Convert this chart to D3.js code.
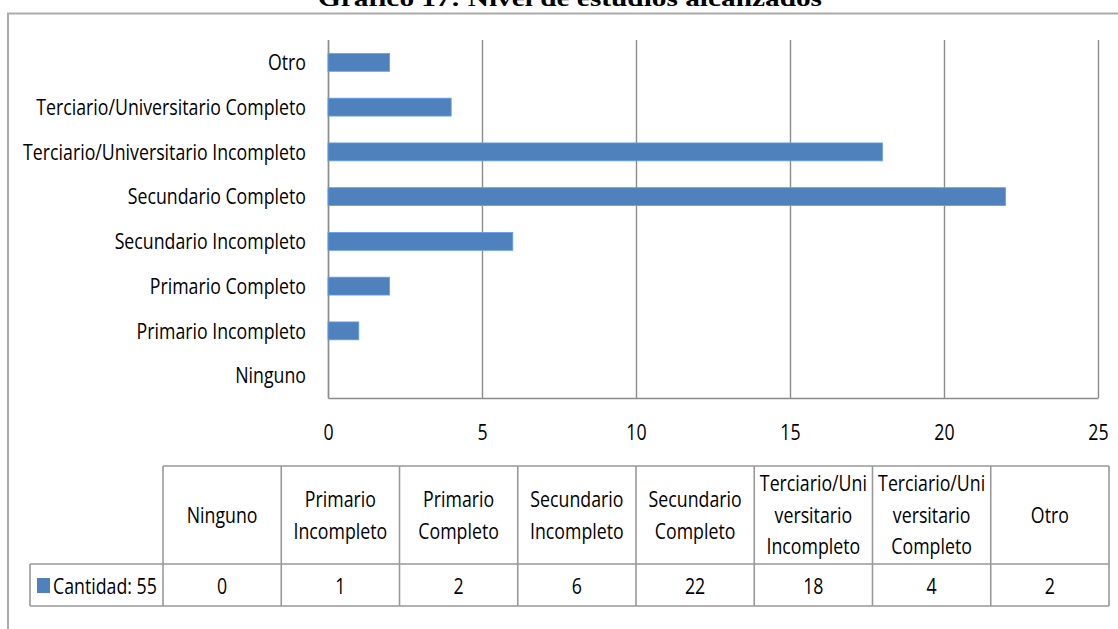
<!DOCTYPE html>
<html>
<head>
<meta charset="utf-8">
<script src="https://cdn.jsdelivr.net/npm/d3@7"></script>
<style>
  body { margin: 0; background: #fff; }
  text { font-family: 'Open Sans', sans-serif; fill: #000; }
</style>
</head>
<body>
<div class="chart"></div>
<script>
/* global d3 */
'use strict'

const title = 'Gráfico 17: Nivel de estudios alcanzados'
const categories = ['Ninguno', 'Primario Incompleto', 'Primario Completo', 'Secundario Incompleto',
  'Secundario Completo', 'Terciario/Universitario Incompleto', 'Terciario/Universitario Completo', 'Otro']
const values = [0, 1, 2, 6, 22, 18, 4, 2]
const xTicks = [0, 5, 10, 15, 20, 25]
// header cells of the data table, wrapped the way the original wraps them
const headerLines = [['Ninguno'], ['Primario', 'Incompleto'], ['Primario', 'Completo'],
  ['Secundario', 'Incompleto'], ['Secundario', 'Completo'],
  ['Terciario/Uni', 'versitario', 'Incompleto'], ['Terciario/Uni', 'versitario', 'Completo'], ['Otro']]
const seriesName = 'Cantidad: 55'

const width = 1118
const height = 629
const plot = { left: 328, right: 1098, top: 40, bottom: 398 }
const table = { left: 30, first: 163, right: 1109, top: 466, mid: 564, bottom: 606 }
const blue = '#4f81bd'
const grid = '#8c8c8c'
const lineColor = '#999'

const svg = d3.select('.chart').append('svg')
  .attr('width', width)
  .attr('height', height)

// the original picture is stretched vertically, so glyphs are narrow and tall
const FS = 18
const probe = svg.append('text').attr('font-size', FS).text(categories[5])
const sx = 283 / probe.node().getComputedTextLength()
const sy = 1.24
probe.remove()

const label = function (parent, x, y, str, anchor) {
  return parent.append('text')
    .attr('transform', 'translate(' + x + ',' + y + ') scale(' + sx + ',' + sy + ')')
    .attr('font-size', FS)
    .attr('text-anchor', anchor || 'middle')
    .attr('dy', '0.35em')
    .text(str)
}

// title, cut by the top edge as in the original
svg.append('text')
  .attr('x', 570)
  .attr('y', 6)
  .attr('text-anchor', 'middle')
  .attr('textLength', 504)
  .attr('lengthAdjust', 'spacingAndGlyphs')
  .style('font-family', "'Liberation Serif', 'Times New Roman', serif")
  .style('font-weight', 'bold')
  .style('font-size', '24px')
  .text(title)

// outer frame (only top and left edges are in view)
svg.append('path')
  .attr('d', 'M8,' + height + 'V13.5H' + width)
  .attr('fill', 'none')
  .attr('stroke', '#aaa')
  .attr('stroke-width', 2)

const x = d3.scaleLinear().domain([0, 25]).range([plot.left, plot.right])
const y = d3.scaleBand().domain(categories).range([plot.bottom, plot.top])
  .paddingInner(0.6).paddingOuter(0.3)

// bottom axis with grid lines
const xAxis = svg.append('g')
  .attr('transform', 'translate(0,' + plot.bottom + ')')
  .call(d3.axisBottom(x).tickValues(xTicks).tickSize(-(plot.bottom - plot.top)).tickSizeOuter(0))
xAxis.selectAll('line').attr('stroke', grid).attr('stroke-width', 1.4)
xAxis.select('.domain').attr('stroke', grid).attr('stroke-width', 1.4)
xAxis.selectAll('text').remove()
xAxis.selectAll('.tick').each(function (d) {
  label(d3.select(this), 0, 34, d)
})

// left axis with category names
const yAxis = svg.append('g')
  .attr('transform', 'translate(' + plot.left + ',0)')
  .call(d3.axisLeft(y).tickSize(0).tickSizeOuter(0))
yAxis.select('.domain').attr('stroke', grid).attr('stroke-width', 1.4)
yAxis.selectAll('text').remove()
yAxis.selectAll('.tick').each(function (d) {
  label(d3.select(this), -22, 0, d, 'end')
})

// bars
svg.append('g').selectAll('rect')
  .data(values)
  .enter().append('rect')
  .attr('x', x(0))
  .attr('y', function (d, i) { return y(categories[i]) })
  .attr('width', function (d) { return x(d) - x(0) })
  .attr('height', y.bandwidth())
  .attr('fill', blue)
  .attr('stroke', d3.color(blue).brighter(0.6))
  .attr('stroke-width', function (d) { return d > 0 ? 0.8 : 0 })

// data table under the axis
const col = d3.scaleBand().domain(categories).range([table.first, table.right])
const tbl = svg.append('g')
  .attr('stroke', lineColor)
  .attr('stroke-width', 1.6)
  .attr('fill', 'none')
tbl.append('path').attr('d', 'M' + table.first + ',' + table.top + 'H' + table.right)
tbl.append('path').attr('d', 'M' + table.left + ',' + table.mid + 'H' + table.right)
tbl.append('path').attr('d', 'M' + table.left + ',' + table.bottom + 'H' + table.right)
tbl.append('path').attr('d', 'M' + table.left + ',' + table.mid + 'V' + table.bottom)
tbl.selectAll('.vline')
  .data(categories.concat(['end']))
  .enter().append('path')
  .attr('class', 'vline')
  .attr('d', function (d) {
    const cx = d === 'end' ? table.right : col(d)
    return 'M' + cx + ',' + table.top + 'V' + table.bottom
  })

const lineStep = 31.5
const headerMid = (table.top + table.mid) / 2
const cells = svg.append('g')
headerLines.forEach(function (lines, i) {
  const cx = col(categories[i]) + col.bandwidth() / 2
  lines.forEach(function (ln, j) {
    label(cells, cx, headerMid + (j - (lines.length - 1) / 2) * lineStep, ln)
  })
  label(cells, cx, (table.mid + table.bottom) / 2 + 1, values[i])
})

// legend key in the row header
cells.append('rect')
  .attr('x', 37)
  .attr('y', 578)
  .attr('width', 13)
  .attr('height', 15)
  .attr('fill', blue)
label(cells, 53, (table.mid + table.bottom) / 2 + 1, seriesName, 'start')
</script>
</body>
</html>
